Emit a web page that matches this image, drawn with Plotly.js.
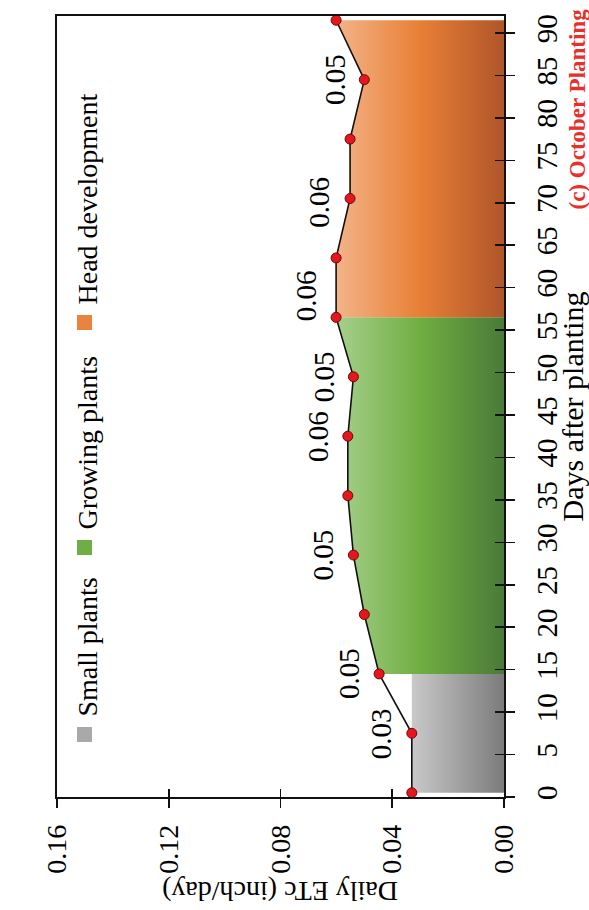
<!DOCTYPE html>
<html>
<head>
<meta charset="utf-8">
<script src="https://cdn.plot.ly/plotly-3.0.1.min.js"></script>
<style>html,body{margin:0;padding:0;background:#fff;}#chart{width:589px;height:910px;}</style>
</head>
<body>
<div id="chart"></div>
<script>
// ---- data ----
const days = [0.5, 7.5, 14.5, 21.5, 28.5, 35.5, 42.5, 49.5, 56.5, 63.5, 70.5, 77.5, 84.5, 91.5];
const etc  = [0.033, 0.033, 0.0447, 0.0500, 0.0539, 0.0559, 0.0559, 0.0539, 0.0601, 0.0601, 0.0551, 0.0551, 0.0500, 0.0601];
const stageNames = ["Small plants", "Growing plants", "Head development"];
const stageStartIdx = [0, 2, 8];
const stageEndIdx = [2, 8, 13];
const labelDays = [7.5, 14.5, 28.5, 42.5, 49.5, 59, 70, 84.5];
const labelText = ["0.03", "0.05", "0.05", "0.06", "0.05", "0.06", "0.06", "0.05"];
const xTicks = [0, 0.04, 0.08, 0.12, 0.16];
const xTickText = ["0.00", "0.04", "0.08", "0.12", "0.16"];
const yTicks = [0,5,10,15,20,25,30,35,40,45,50,55,60,65,70,75,80,85,90];

// ---- styles ----
const FONT = "Liberation Serif, Times New Roman, serif";
const stageScales = [
  [[0, "#7b7b7b"], [1, "#c9c9c9"]],
  [[0, "#4a7a38"], [0.5, "#70ae42"], [1, "#a6d08c"]],
  [[0, "#b0562a"], [0.5, "#e87f36"], [1, "#f3b488"]]
];
const legendColors = ["#a9a9a9", "#6fae45", "#e8843e"];

// plot area in pixels (for paper-coord helpers)
const W = 589, H = 910, ML = 57, MR = 85, MT = 16, MB = 113;
const PW = W - ML - MR, PH = H - MT - MB;
const px = v => (v - ML) / PW;
const py = v => (H - MB - v) / PH;

function interp(d) {
  for (let i = 0; i < days.length - 1; i++) {
    if (d >= days[i] && d <= days[i + 1]) {
      const t = (d - days[i]) / (days[i + 1] - days[i]);
      return etc[i] + t * (etc[i + 1] - etc[i]);
    }
  }
  return etc[etc.length - 1];
}

const traces = [];
stageNames.forEach((name, s) => {
  const a = stageStartIdx[s], b = stageEndIdx[s];
  let xs = [0], ys = [days[a]];
  if (s === 0) {
    // first stage drawn flat at its first value up to the stage end
    xs.push(etc[a], etc[a], 0); ys.push(days[a], days[b], days[b]);
  } else {
    for (let i = a; i <= b; i++) { xs.push(etc[i]); ys.push(days[i]); }
    xs.push(0); ys.push(days[b]);
  }
  traces.push({
    type: "scatter", mode: "lines", x: xs, y: ys, fill: "toself",
    line: {width: 0, color: "rgba(0,0,0,0)"},
    fillgradient: {type: "horizontal", colorscale: stageScales[s], start: 0, stop: Math.max(...xs)},
    name: name, showlegend: false, hoverinfo: "skip"
  });
});
traces.push({
  type: "scatter", mode: "lines+markers", x: etc, y: days,
  line: {color: "#111", width: 1.6},
  marker: {color: "#e5161d", size: 10, line: {color: "#6a0a0a", width: 1}},
  showlegend: false
});
traces.push({type: "scatter", x: [], y: [], xaxis: "x2", yaxis: "y2", showlegend: false});

const annotations = [];
labelDays.forEach((d, i) => {
  annotations.push({
    x: interp(d), y: d, xref: "x", yref: "y", text: labelText[i], showarrow: false,
    textangle: -90, xshift: -30, font: {family: FONT, size: 29, color: "#000"}
  });
});
// legend (rotated)
const legSqTop = [727, 540, 315];
const shapes = [];
stageNames.forEach((name, s) => {
  shapes.push({type: "rect", xref: "paper", yref: "paper",
    x0: px(77), x1: px(92), y0: py(legSqTop[s] + 15), y1: py(legSqTop[s]),
    fillcolor: legendColors[s], line: {width: 0}});
  annotations.push({xref: "paper", yref: "paper", x: px(87), y: py(legSqTop[s] - 8),
    xanchor: "center", yanchor: "bottom", text: name, showarrow: false, textangle: -90,
    font: {family: FONT, size: 28, color: "#000"}});
});
// axis titles
annotations.push({xref: "paper", yref: "paper", x: px(572), y: 0.5, xanchor: "center", yanchor: "middle",
  text: "Days after planting", showarrow: false, textangle: -90, font: {family: FONT, size: 30, color: "#000"}});
annotations.push({xref: "paper", yref: "paper", x: 0.5, y: py(892), xanchor: "center", yanchor: "middle",
  text: "Daily ETc (inch/day)", showarrow: false, textangle: 180, font: {family: FONT, size: 28, color: "#000"}});
// chart title
annotations.push({xref: "paper", yref: "paper", x: px(577), y: py(212), xanchor: "center", yanchor: "bottom",
  text: "<b>(c) October Planting</b>", showarrow: false, textangle: -90,
  font: {family: FONT, size: 23, color: "#e8302b"}});

const axisCommon = {showgrid: false, zeroline: false, showline: true, linecolor: "#111", linewidth: 1.6,
  ticks: "outside", tickwidth: 1.6, tickcolor: "#111", ticklen: 9,
  tickfont: {family: FONT, size: 29, color: "#000"}, tickangle: -90};

const layout = {
  width: W, height: H, margin: {l: ML, r: MR, t: MT, b: MB, pad: 0},
  paper_bgcolor: "#fff", plot_bgcolor: "#fff", showlegend: false,
  font: {family: FONT},
  xaxis: Object.assign({}, axisCommon, {range: [0.16, 0], tickvals: xTicks, ticktext: xTickText, mirror: true,
    ticklabelstandoff: 6, tickfont: {family: FONT, size: 28, color: "#000"}}),
  yaxis: Object.assign({}, axisCommon, {range: [0, 92], side: "right", tickvals: yTicks, mirror: true, ticklabelstandoff: 8}),
  xaxis2: {overlaying: "x", matches: "x", anchor: "y2", side: "bottom", ticks: "inside", ticklen: 8, tickwidth: 1.6, tickcolor: "#111",
    tickvals: xTicks, showticklabels: false, showgrid: false, zeroline: false, showline: false},
  yaxis2: {overlaying: "y", matches: "y", anchor: "x2", side: "right", ticks: "inside", ticklen: 9, tickwidth: 1.6, tickcolor: "#111",
    tickvals: yTicks, showticklabels: false, showgrid: false, zeroline: false, showline: false},
  annotations: annotations, shapes: shapes
};
Plotly.newPlot("chart", traces, layout, {staticPlot: true});
</script>
</body>
</html>
